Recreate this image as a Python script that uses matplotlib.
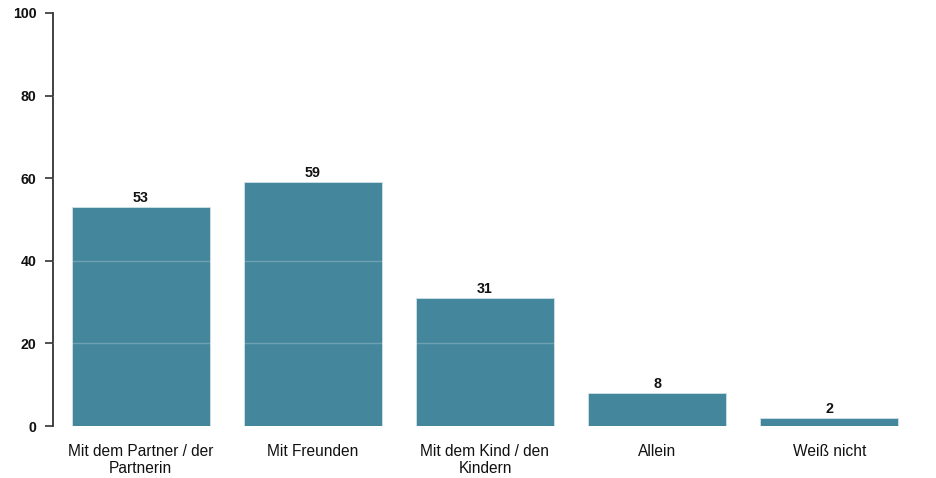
import matplotlib.pyplot as plt
import numpy as np

categories = ['Mit dem Partner / der\nPartnerin', 'Mit Freunden', 'Mit dem Kind / den\nKindern',
              'Allein', 'Weiß nicht']
values = [53, 59, 31, 8, 2]
y_ticks = [0, 20, 40, 60, 80, 100]

plt.rcParams['font.family'] = ['Liberation Sans', 'DejaVu Sans']

fig = plt.figure(figsize=(9.37, 4.78), dpi=100)
ax = fig.add_axes([53 / 937, 1 - 426 / 478, (917 - 53) / 937, (426 - 13) / 478])

x = np.arange(len(categories))
bars = ax.bar(x, values, width=0.8, color='#44869c', edgecolor='#cfe2e8', linewidth=0.6, zorder=2)

# white grid lines only show on top of the bars
for t in y_ticks[1:-1]:
    ax.axhline(t, color='white', alpha=0.22, linewidth=1, zorder=3)

for xi, v in zip(x, values):
    ax.annotate(str(v), (xi, v), xytext=(0, 1.5), textcoords='offset points',
                ha='center', va='bottom', fontsize=10.3, fontweight='bold', color='#111111')

ax.set_xlim(-0.51, len(categories) - 0.49)
ax.set_ylim(0, 100)
ax.set_yticks(y_ticks)
ax.set_yticklabels([str(t) for t in y_ticks], fontsize=10.2, fontweight='bold', color='#111111')
ax.set_xticks(x)
ax.set_xticklabels(categories, fontsize=11.2, color='#111111', linespacing=1.2)
ax.tick_params(axis='x', length=0, pad=13)
ax.tick_params(axis='y', length=6, width=1.2, color='#333333', pad=6)

for s in ['top', 'right', 'bottom']:
    ax.spines[s].set_visible(False)
ax.spines['left'].set_color('#333333')
ax.spines['left'].set_linewidth(1.3)

fig.savefig('out.png', dpi=100)
